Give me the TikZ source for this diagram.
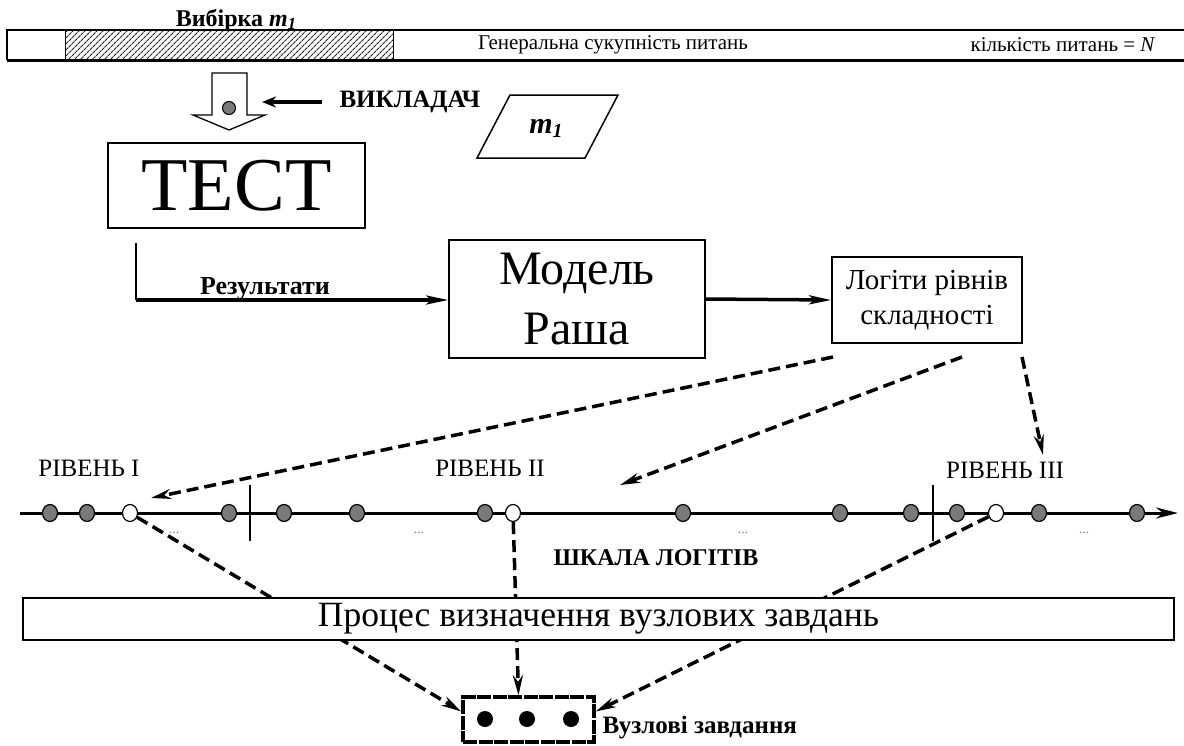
\documentclass[tikz,border=0pt]{standalone}
\usepackage{fontspec}
\setmainfont{Liberation Serif}
\usetikzlibrary{arrows.meta,shapes.geometric,patterns.meta}
\newcommand\fz[2]{\fontsize{#1}{#2}\selectfont}
\begin{document}
\begin{tikzpicture}[x=1pt,y=-1pt,
  box/.style={draw, line width=1.6, inner sep=0, align=center},
  gdot/.style={ellipse, draw, line width=1.2, fill=black!52, minimum width=15, minimum height=17, inner sep=0},
  wdot/.style={gdot, fill=white},
  dsh/.style={line width=3.5, dash pattern=on 12pt off 6pt, -{Stealth[length=20,width=10]}},
  lvl/.style={font=\fz{25}{30}},
  dts/.style={font=\fz{14}{16}, text=black!50},
  solidarrow/.style={line width=3.5, -{Stealth[length=22,width=9,inset=5]}},
]
\fill[white] (0,0) rectangle (1184,745);
\useasboundingbox (0,0) rectangle (1184,745);

% top bar
\fill[pattern={Lines[angle=45,distance=4pt,line width=1.2pt]}, pattern color=black!85] (65,31) rectangle (393,59);
\draw[line width=1] (65,31) -- (65,59) (393,31) -- (393,59);
\draw[line width=1.5] (1184,30) -- (7,30) -- (7,60);
\draw[line width=3] (7,60) -- (1184,60);
\node[font=\bfseries\fz{24}{28}, anchor=base] (sample) at (236,26) {Вибірка \textit{m}\raisebox{-0.3ex}{\fz{17}{17}\textit{1}}};
\node[font=\fz{21}{24}] (gen) at (613,45) {Генеральна сукупність питань};
\node[font=\fz{21}{24}] (cnt) at (1063,45) {кількість питань = \textit{N}};

% hollow arrow with item
\draw[line width=1.3, fill=white] (212,73) -- (247,73) -- (247,115) -- (265,115) -- (229,130) -- (193,115) -- (212,115) -- cycle;
\node[circle, draw, fill=black!52, minimum size=13, inner sep=0, line width=1] (seldot) at (229,108) {};
\coordinate (intake) at (262,102);
\node[font=\bfseries\fz{25}{28}, anchor=west] (teacher) at (336,102) {ВИКЛАДАЧ};
\draw[line width=3.5, -{Stealth[length=14,width=11]}] ([xshift=-14pt]teacher.west) -- (intake);

% parallelogram m1
\draw[line width=1.5] (510,95) -- (618,95) -- (585,158) -- (477,158) -- cycle;
\node[font=\bfseries\itshape\fz{30}{32}] (m1) at (546,128) {m\raisebox{-0.3ex}{\fz{20}{20}1}};

% main boxes
\node[box, minimum width=257, minimum height=85, font=\fz{76}{80}] (test) at (236.5,185.5) {ТЕСТ};
\node[box, minimum width=256, minimum height=118, font=\fz{48}{60}] (model) at (577,299) {Модель\\Раша};
\node[box, minimum width=190, minimum height=86, font=\fz{29}{35}] (logit) at (927,300) {Логіти рівнів\\складності};

\coordinate (rtop) at (136,243);
\coordinate (rcorner) at (136,300);
\draw[line width=1.5] (rtop) -- (rcorner);
\draw[solidarrow] (rcorner) -- (rcorner -| model.west);
\node[font=\bfseries\fz{26}{30}, anchor=base] (res) at (265,294) {Результати};
\draw[solidarrow] (model.east) -- (logit.west);

% dashed arrows from logits
\coordinate (ls1) at (833,357);
\coordinate (ls2) at (962,357);
\coordinate (ls3) at (1022,357);
\coordinate (lt1) at (151,498);
\coordinate (lt2) at (620,485);
\coordinate (lt3) at (1043,455);
\draw[dsh] (ls1) -- (lt1);
\draw[dsh] (ls2) -- (lt2);
\draw[dsh] (ls3) -- (lt3);

% level labels
\node[lvl] (lev1) at (89,468) {РІВЕНЬ I};
\node[lvl] (lev2) at (490,468) {РІВЕНЬ II};
\node[lvl] (lev3) at (1005,470) {РІВЕНЬ III};

% axis
\coordinate (axL) at (20,513);
\coordinate (axR) at (1178,513);
\draw[line width=3, -{Stealth[length=22,width=11]}] (axL) -- (axR);
\draw[line width=1.5] (250,485) -- (250,541) (933,485) -- (933,541);
\foreach \x [count=\i] in {50,87,229,284,357,485,683,840,911,957,1039,1137}
  \node[gdot] (g\i) at (\x,513) {};
\node[wdot] (w1) at (130,513) {};
\node[wdot] (w2) at (513,513) {};
\node[wdot] (w3) at (996,513) {};
\node[dts] (e1) at (174,533) {...};
\node[dts] (e2) at (419,533) {...};
\node[dts] (e3) at (743,533) {...};
\node[dts] (e4) at (1084,533) {...};
\node[font=\bfseries\fz{24}{28}] (scale) at (656,558) {ШКАЛА ЛОГІТІВ};

% key tasks box
\node[draw, line width=3.5, dash pattern=on 14pt off 1.5pt, minimum width=131, minimum height=45, inner sep=0] (nodes) at (528.5,719.5) {};
\foreach \x [count=\i] in {485,527,571}
  \node[circle, fill=black, minimum size=16, inner sep=0] (b\i) at (\x,719) {};
\node[font=\bfseries\fz{25}{28}, anchor=west] (nodelab) at (599,728) {Вузлові завдання};

\draw[dsh] (w1) -- ([yshift=8pt]nodes.west);
\draw[dsh] (w2) -- ([xshift=-10pt]nodes.north);
\draw[dsh] (w3) -- ([yshift=8pt]nodes.east);

\node[box, fill=white, line width=2, minimum width=1151, minimum height=42, font=\fz{35.5}{38}] (proc) at (598.5,619) {Процес визначення вузлових завдань};
\end{tikzpicture}
\end{document}
